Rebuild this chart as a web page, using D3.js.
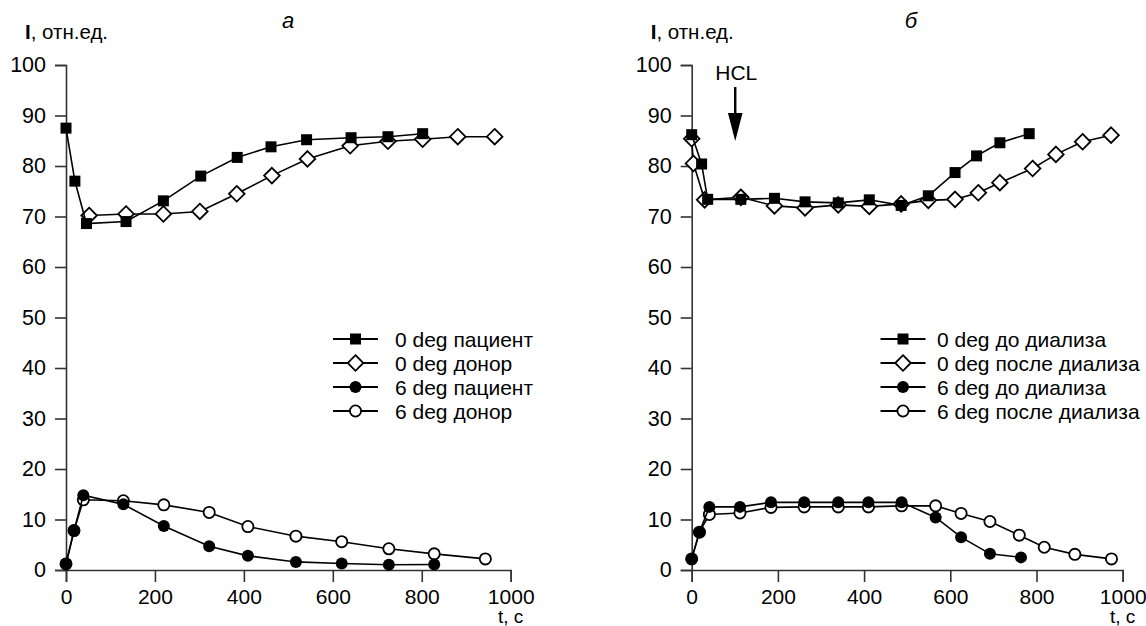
<!DOCTYPE html>
<html><head><meta charset="utf-8">
<script src="https://cdn.jsdelivr.net/npm/d3@7"></script>
<style>
body{margin:0;background:#fff}
svg{display:block}
text{font-family:"Liberation Sans",Arial,Helvetica,sans-serif;fill:#000}
</style>
</head><body>
<svg id="c" width="1146" height="626"></svg>
<script>
// ---- data ----
const xTicks = [0, 200, 400, 600, 800, 1000];
const yTicks = [0, 10, 20, 30, 40, 50, 60, 70, 80, 90, 100];
const yLabel = ", отн.ед.";
const xLabel = "t, c";

// panel а
const legendA = ["0 deg пациент", "0 deg донор", "6 deg пациент", "6 deg донор"];
const a0Patient = [[0,87.5],[20,77],[46,68.6],[135,69],[219,73.1],[303,78],[385,81.7],[461,83.8],[541,85.2],[641,85.6],[724,85.8],[802,86.4]];
const a0Donor   = [[52,70.2],[135,70.5],[219,70.5],[301,71],[384,74.5],[463,78.1],[543,81.4],[639,84],[724,84.9],[802,85.3],[881,85.8],[964,85.8]];
const a6Patient = [[0,1.2],[18,7.8],[39,14.8],[129,13],[220,8.7],[322,4.7],[409,2.8],[517,1.6],[620,1.3],[726,1.05],[828,1.1]];
const a6Donor   = [[0,1.2],[18,7.8],[39,13.9],[129,13.7],[220,12.9],[322,11.4],[409,8.6],[517,6.7],[620,5.6],[726,4.2],[828,3.2],[943,2.2]];

// panel б
const legendB = ["0 deg до диализа", "0 deg после диализа", "6 deg до диализа", "6 deg после диализа"];
const b0Before = [[0,86.2],[23,80.4],[37,73.4],[114,73.4],[192,73.6],[263,72.9],[340,72.7],[412,73.3],[486,72.2],[549,74.1],[611,78.7],[661,82],[715,84.6],[783,86.4]];
const b0After  = [[0,85.4],[4,80.5],[30,73.3],[114,73.8],[192,72.1],[263,71.7],[340,72.3],[412,72],[486,72.5],[549,73.2],[611,73.4],[665,74.7],[715,76.7],[791,79.5],[845,82.3],[907,84.8],[973,86.1]];
const b6Before = [[0,2.2],[18,7.5],[41,12.5],[112,12.5],[184,13.4],[261,13.4],[340,13.4],[410,13.4],[487,13.4],[566,10.4],[625,6.5],[692,3.2],[764,2.5]];
const b6After  = [[0,2.2],[18,7.5],[41,11],[112,11.3],[184,12.4],[261,12.5],[340,12.5],[410,12.5],[487,12.7],[566,12.7],[625,11.2],[692,9.6],[760,6.9],[818,4.5],[889,3.1],[974,2.2]];

const panelLetters = ["а", "б"];
const annotation = "HCL";

// ---- drawing ----
const svg = d3.select("#c");
const FONT = 21;
const LFONT = 21;
const markerKinds = ["square", "diamond", "dot", "ring"];

function drawMarker(g, kind, cx, cy) {
  if (kind === "square") {
    g.append("rect").attr("x", cx - 5.5).attr("y", cy - 5.5).attr("width", 11).attr("height", 11)
      .attr("fill", "#000");
  } else if (kind === "diamond") {
    const s = 7.8;
    g.append("path").attr("d", `M${cx},${cy - s}L${cx + s},${cy}L${cx},${cy + s}L${cx - s},${cy}Z`)
      .attr("fill", "#fff").attr("stroke", "#000").attr("stroke-width", 1.8);
  } else if (kind === "dot") {
    g.append("circle").attr("cx", cx).attr("cy", cy).attr("r", 6).attr("fill", "#000");
  } else {
    g.append("circle").attr("cx", cx).attr("cy", cy).attr("r", 5.6)
      .attr("fill", "#fff").attr("stroke", "#000").attr("stroke-width", 1.8);
  }
}

function panel(cfg) {
  const x = d3.scaleLinear().domain([0, 1000]).range([cfg.x0, cfg.x1]);
  const y = d3.scaleLinear().domain([0, 100]).range([570, 65]);
  const g = svg.append("g");

  const ax = g.append("g").attr("transform", `translate(0,${y(0)})`)
    .call(d3.axisBottom(x).tickValues(xTicks).tickFormat(d3.format("d")).tickSize(12).tickPadding(7));
  const ay = g.append("g").attr("transform", `translate(${x(0)},0)`)
    .call(d3.axisLeft(y).tickValues(yTicks).tickFormat(d3.format("d")).tickSize(11).tickPadding(9));
  [ax, ay].forEach(a => {
    a.selectAll("path,line").attr("stroke", "#333").attr("stroke-width", 1.6);
    a.selectAll("text").attr("font-size", FONT).attr("fill", "#000")
      .attr("font-family", '"Liberation Sans",Arial,sans-serif');
  });
  ay.selectAll("text").attr("font-size", 21.5);

  // axis titles
  const yl = g.append("text").attr("x", cfg.x0 - 41).attr("y", 39).attr("font-size", 20.5);
  yl.append("tspan").attr("font-weight", "bold").text("I");
  yl.append("tspan").text(yLabel);
  g.append("text").attr("x", cfg.x1).attr("y", 623).attr("text-anchor", "middle")
    .attr("font-size", 19).text(xLabel);

  // panel letter
  g.append("text").attr("x", cfg.letterX).attr("y", 28).attr("text-anchor", "middle")
    .attr("font-size", 22).attr("font-style", "italic").text(cfg.letter);

  // series: open ones first, filled on top
  const line = d3.line().x(d => x(d[0])).y(d => y(d[1]));
  const order = [1, 3, 0, 2];
  order.forEach(i => {
    const data = cfg.series[i];
    const sg = g.append("g");
    sg.append("path").attr("d", line(data)).attr("fill", "none")
      .attr("stroke", "#000").attr("stroke-width", 1.6);
    data.forEach(d => drawMarker(sg, markerKinds[i], x(d[0]), y(d[1])));
  });

  // legend
  const rows = [339, 363, 387, 411];
  cfg.legend.forEach((name, i) => {
    const lg = g.append("g");
    lg.append("line").attr("x1", cfg.legX).attr("x2", cfg.legX + 45)
      .attr("y1", rows[i]).attr("y2", rows[i]).attr("stroke", "#000").attr("stroke-width", 2);
    drawMarker(lg, markerKinds[i], cfg.legX + 22.5, rows[i]);
    lg.append("text").attr("x", cfg.legText).attr("y", rows[i] + 7.5)
      .attr("font-size", LFONT).text(name);
  });
  return {x, y, g};
}

panel({x0: 66, x1: 510.7, letter: panelLetters[0], letterX: 288,
  series: [a0Patient, a0Donor, a6Patient, a6Donor], legend: legendA, legX: 333, legText: 395});

const pb = panel({x0: 691.7, x1: 1122.7, letter: panelLetters[1], letterX: 911,
  series: [b0Before, b0After, b6Before, b6After], legend: legendB, legX: 880.5, legText: 937});

// HCL annotation
const hx = pb.x(101);
pb.g.append("text").attr("x", hx + 1).attr("y", 80).attr("text-anchor", "middle")
  .attr("font-size", 21).text(annotation);
pb.g.append("line").attr("x1", hx).attr("x2", hx).attr("y1", 87).attr("y2", 116)
  .attr("stroke", "#000").attr("stroke-width", 2.4);
pb.g.append("path").attr("d", `M${hx - 7.3},113L${hx + 7.3},113L${hx},141Z`).attr("fill", "#000");
</script>
</body></html>
